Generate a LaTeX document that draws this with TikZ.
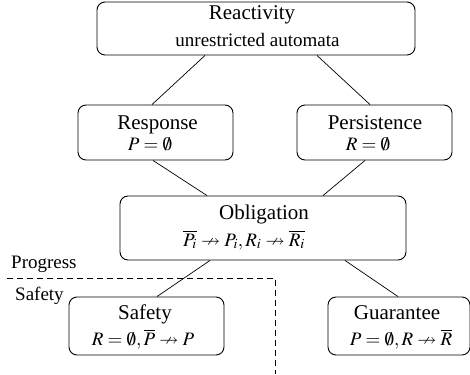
\documentclass[tikz,border=0pt]{standalone}
\usepackage{mathptmx}
\usepackage{amssymb}
\usepackage[no-math]{fontspec}
\setmainfont{Liberation Serif}
\usetikzlibrary{calc}
\tikzset{
  box/.style={draw, line width=0.9pt, rounded corners=8pt, inner sep=0pt},
  ttl/.style={anchor=base, inner sep=0pt, text depth=0pt, font=\fontsize{21}{24}\selectfont},
  sub/.style={anchor=base, inner sep=0pt, text height=11pt, font=\fontsize{19}{22}\selectfont},
  lbl/.style={anchor=base west, inner sep=0pt, font=\fontsize{19}{22}\selectfont},
  conn/.style={line width=0.7pt},
  divider/.style={line width=0.8pt, dash pattern=on 6pt off 4pt}
}
\begin{document}
\begin{tikzpicture}[x=1pt,y=-1pt]
\useasboundingbox (0,0) rectangle (470,374);
% boxes
\node[box, minimum width=318pt, minimum height=53pt] (react) at (256,28.5) {};
\node[box, minimum width=155pt, minimum height=55pt] (resp) at (155.5,132.5) {};
\node[box, minimum width=155pt, minimum height=55pt] (pers) at (374.5,132.5) {};
\node[box, minimum width=286pt, minimum height=64pt] (oblig) at (263,228) {};
\node[box, minimum width=155pt, minimum height=58pt] (safe) at (146.5,326) {};
\node[box, minimum width=142pt, minimum height=58pt] (guar) at (399,326) {};
% texts
\node[ttl] (tReact) at (252,20) {Reactivity};
\node[sub] (sReact) at (257.5,47) {unrestricted automata};
\node[ttl] (tResp) at (157.5,130) {Response};
\node[sub] (sResp) at (150,150) {$P=\emptyset$};
\node[ttl] (tPers) at (375,130) {Persistence};
\node[sub] (sPers) at (368,150) {$R=\emptyset$};
\node[ttl] (tObl) at (264,219) {Obligation};
\node[sub] (sObl) at (244,246) {$\overline{P_i}\nrightarrow P_i,R_i\nrightarrow\overline{R_i}$};
\node[ttl] (tSafe) at (145,319) {Safety};
\node[sub] (sSafe) at (143,345) {$R=\emptyset,\overline{P}\nrightarrow P$};
\node[ttl] (tGuar) at (397,319) {Guarantee};
\node[sub] (sGuar) at (401,345) {$P=\emptyset,R\nrightarrow\overline{R}$};
\node[lbl] (lProg) at (11,268) {Progress};
\node[lbl] (lSafe) at (15,300) {Safety};
% connectors
\draw[conn] ([xshift=-51pt]react.south) -- ([xshift=-3.5pt]resp.north);
\draw[conn] ([xshift=61pt]react.south) -- ([xshift=-4.5pt]pers.north);
\draw[conn] ([xshift=-2.5pt]resp.south) -- ([xshift=-56pt]oblig.north);
\draw[conn] ([xshift=-9.5pt]pers.south) -- ([xshift=60pt]oblig.north);
\draw[conn] ([xshift=-53pt]oblig.south) -- ([xshift=10.5pt]safe.north);
\draw[conn] ([xshift=82pt]oblig.south) -- ([xshift=-1pt]guar.north);
% divider
\coordinate (dA) at (7,278);
\coordinate (dB) at (275,278);
\coordinate (dC) at (275,374);
\draw[divider] (dA) -- (dB) -- (dC);
\end{tikzpicture}
\end{document}
